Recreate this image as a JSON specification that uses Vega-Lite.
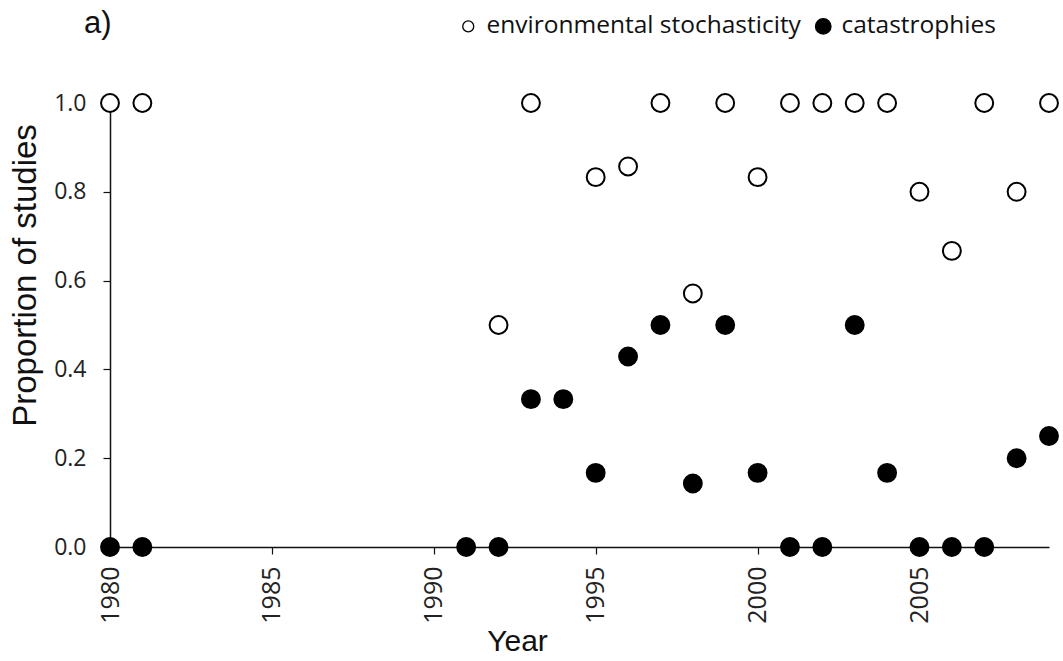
{
  "$schema": "https://vega.github.io/schema/vega-lite/v6.json",
  "width": 939,
  "height": 444,
  "autosize": {"type": "none"},
  "padding": {"left": 110, "top": 103, "right": 14, "bottom": 114},
  "background": "white",
  "title": {
    "text": "a)",
    "anchor": "start",
    "frame": "group",
    "font": "Liberation Sans",
    "fontSize": 31,
    "fontWeight": "normal",
    "color": "#111",
    "baseline": "alphabetic",
    "offset": 0,
    "dy": 50,
    "dx": -26
  },
  "config": {
    "view": {"stroke": null},
    "axis": {
      "domainColor": "#111",
      "domainWidth": 1.5,
      "tickColor": "#111",
      "tickWidth": 1.2,
      "tickSize": 7,
      "grid": false,
      "labelFont": "Open Sans",
      "labelFontSize": 23,
      "labelColor": "#222",
      "titleFont": "Liberation Sans",
      "titleFontWeight": "normal",
      "titleColor": "#111"
    }
  },
  "data": {
    "values": [
      {"year": 1980, "series": "environmental stochasticity", "p": 1.0},
      {"year": 1981, "series": "environmental stochasticity", "p": 1.0},
      {"year": 1992, "series": "environmental stochasticity", "p": 0.5},
      {"year": 1993, "series": "environmental stochasticity", "p": 1.0},
      {"year": 1995, "series": "environmental stochasticity", "p": 0.833},
      {"year": 1996, "series": "environmental stochasticity", "p": 0.857},
      {"year": 1997, "series": "environmental stochasticity", "p": 1.0},
      {"year": 1998, "series": "environmental stochasticity", "p": 0.571},
      {"year": 1999, "series": "environmental stochasticity", "p": 1.0},
      {"year": 2000, "series": "environmental stochasticity", "p": 0.833},
      {"year": 2001, "series": "environmental stochasticity", "p": 1.0},
      {"year": 2002, "series": "environmental stochasticity", "p": 1.0},
      {"year": 2003, "series": "environmental stochasticity", "p": 1.0},
      {"year": 2004, "series": "environmental stochasticity", "p": 1.0},
      {"year": 2005, "series": "environmental stochasticity", "p": 0.8},
      {"year": 2006, "series": "environmental stochasticity", "p": 0.667},
      {"year": 2007, "series": "environmental stochasticity", "p": 1.0},
      {"year": 2008, "series": "environmental stochasticity", "p": 0.8},
      {"year": 2009, "series": "environmental stochasticity", "p": 1.0},
      {"year": 1980, "series": "catastrophies", "p": 0.0},
      {"year": 1981, "series": "catastrophies", "p": 0.0},
      {"year": 1991, "series": "catastrophies", "p": 0.0},
      {"year": 1992, "series": "catastrophies", "p": 0.0},
      {"year": 1993, "series": "catastrophies", "p": 0.333},
      {"year": 1994, "series": "catastrophies", "p": 0.333},
      {"year": 1995, "series": "catastrophies", "p": 0.167},
      {"year": 1996, "series": "catastrophies", "p": 0.429},
      {"year": 1997, "series": "catastrophies", "p": 0.5},
      {"year": 1998, "series": "catastrophies", "p": 0.143},
      {"year": 1999, "series": "catastrophies", "p": 0.5},
      {"year": 2000, "series": "catastrophies", "p": 0.167},
      {"year": 2001, "series": "catastrophies", "p": 0.0},
      {"year": 2002, "series": "catastrophies", "p": 0.0},
      {"year": 2003, "series": "catastrophies", "p": 0.5},
      {"year": 2004, "series": "catastrophies", "p": 0.167},
      {"year": 2005, "series": "catastrophies", "p": 0.0},
      {"year": 2006, "series": "catastrophies", "p": 0.0},
      {"year": 2007, "series": "catastrophies", "p": 0.0},
      {"year": 2008, "series": "catastrophies", "p": 0.2},
      {"year": 2009, "series": "catastrophies", "p": 0.25}
    ]
  },
  "mark": {"type": "point", "shape": "circle", "filled": true, "stroke": "#000", "strokeWidth": 2, "size": 320, "opacity": 1, "clip": false},
  "encoding": {
    "x": {
      "field": "year",
      "type": "quantitative",
      "scale": {"domain": [1980, 2009], "nice": false, "zero": false},
      "axis": {
        "title": "Year",
        "values": [1980, 1985, 1990, 1995, 2000, 2005],
        "format": "d",
        "labelAngle": 270,
        "labelPadding": 12,
        "labelFontSize": 25,
        "titleFontSize": 30,
        "titleX": 407,
        "titleY": 103,
        "titleBaseline": "alphabetic",
        "titleAnchor": null,
        "titleAlign": "center"
      }
    },
    "y": {
      "field": "p",
      "type": "quantitative",
      "scale": {"domain": [0, 1], "nice": false},
      "axis": {
        "title": "Proportion of studies",
        "values": [0, 0.2, 0.4, 0.6, 0.8, 1.0],
        "format": ".1f",
        "labelPadding": 17,
        "titleFontSize": 33,
        "titleX": -85,
        "titleY": 172,
        "titleAngle": 270,
        "titleAlign": "center",
        "titleBaseline": "middle"
      }
    },
    "fill": {
      "field": "series",
      "type": "nominal",
      "scale": {"domain": ["environmental stochasticity", "catastrophies"], "range": ["#ffffff", "#000000"]},
      "legend": {
        "title": null,
        "orient": "none",
        "direction": "horizontal",
        "legendX": 346,
        "legendY": -89,
        "labelFont": "Open Sans",
        "labelFontSize": 24.5,
        "labelColor": "#111",
        "labelLimit": 0,
        "labelOffset": 6,
        "columnPadding": 10,
        "symbolType": "circle",
        "symbolSize": 200,
        "symbolStrokeColor": "#000",
        "symbolStrokeWidth": 1.3,
        "symbolOpacity": 1,
        "encode": {
          "symbols": {"update": {"size": {"signal": "datum.value === 'catastrophies' ? 240 : 120"}, "stroke": {"value": "#000"}}}
        }
      }
    }
  }
}
